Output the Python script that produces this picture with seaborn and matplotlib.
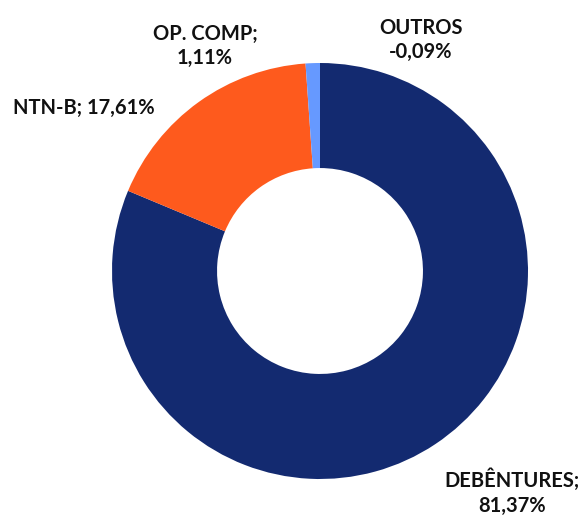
import matplotlib
matplotlib.use("Agg")
from matplotlib import pyplot as plt
import seaborn as sns

# dados da carteira (%)
categorias = ["DEBÊNTURES", "NTN-B", "OP. COMP", "OUTROS"]
valores = [81.37, 17.61, 1.11, -0.09]
cores = ["#132a70", "#fe5a1d", "#6699ff", "#a5a5a5"]

sns.set_theme(style="white")
plt.rcParams['font.family'] = ['Lato', 'DejaVu Sans']

fig = plt.figure(figsize=(5.83, 5.19), dpi=100)
# eixo posicionado em pixels para o donut ficar no mesmo lugar
ax = fig.add_axes([112 / 583, (519 - 479) / 519, 416 / 583, 416 / 519])

fatias = [max(v, 0) for v in valores]
ax.pie(fatias, colors=cores, startangle=90, counterclock=False,
       radius=1, wedgeprops=dict(width=0.505, edgecolor='none'))
ax.set_xlim(-1, 1)
ax.set_ylim(-1, 1)
ax.set_aspect('equal')
ax.axis('off')


def fmt(v):
    return f"{v:.2f}".replace(".", ",") + "%"


# posicoes dos rotulos (coordenadas do eixo)
pos = {
    "DEBÊNTURES": (0.925, -1.065, "{c};\n{v}"),
    "NTN-B": (-1.136, 0.784, "{c}; {v}"),
    "OP. COMP": (-0.553, 1.082, "{c};\n{v}"),
    "OUTROS": (0.485, 1.111, "{c}\n{v}"),
}
for c, v in zip(categorias, valores):
    x, y, modelo = pos[c]
    ax.text(x, y, modelo.format(c=c, v=fmt(v)), ha='center', va='center',
            fontsize=14.5, fontweight='bold', color='#111111',
            linespacing=1.3)

plt.savefig("out.png", dpi=100)
